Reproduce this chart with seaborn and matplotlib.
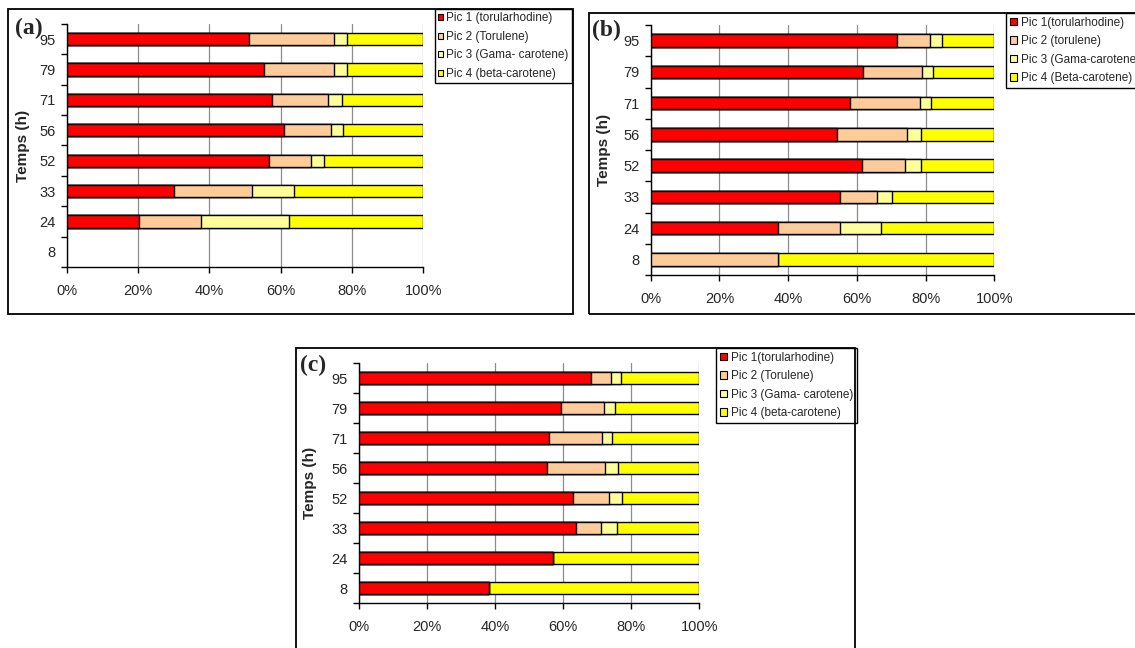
"""
Stacked percentage bars of carotenoid peaks vs. time, three panels (a), (b), (c).
"""

import numpy as np
import matplotlib
matplotlib.use('Agg')
import matplotlib.pyplot as plt
from matplotlib.patches import Patch, Rectangle
import seaborn as sns

# categories (top to bottom)
hours = ['95', '79', '71', '56', '52', '33', '24', '8']
x_ticks = [0, 20, 40, 60, 80, 100]

# panel (a), % of each peak
a_pic1 = [51.0, 55.4, 57.5, 61.0, 56.6, 30.0, 20.4, 0]
a_pic2 = [24.0, 19.6, 15.9, 13.1, 11.9, 22.1, 17.3, 0]
a_pic3 = [3.7, 3.7, 3.7, 3.3, 3.6, 11.7, 24.5, 0]
a_pic4 = [21.3, 21.3, 22.9, 22.6, 27.9, 36.2, 37.8, 0]
a_labels = ['Pic 1 (torularhodine)', 'Pic 2 (Torulene)',
            'Pic 3 (Gama- carotene)', 'Pic 4 (beta-carotene)']

# panel (b)
b_pic1 = [71.6, 61.9, 58.0, 54.3, 61.4, 55.2, 36.9, 0]
b_pic2 = [9.8, 17.1, 20.4, 20.2, 12.6, 10.6, 18.3, 36.9]
b_pic3 = [3.4, 3.3, 3.1, 4.2, 4.7, 4.5, 11.8, 0]
b_pic4 = [15.2, 17.7, 18.5, 21.3, 21.3, 29.7, 33.0, 63.1]
b_labels = ['Pic 1(torularhodine)', 'Pic 2 (torulene)',
            'Pic 3 (Gama-carotene)', 'Pic 4 (Beta-carotene)']

# panel (c)
c_pic1 = [68.1, 59.3, 56.0, 55.2, 62.8, 63.7, 57.2, 38.2]
c_pic2 = [5.9, 12.6, 15.5, 17.2, 10.8, 7.4, 0, 0]
c_pic3 = [2.9, 3.4, 2.9, 3.8, 3.8, 4.7, 0, 0]
c_pic4 = [23.1, 24.7, 25.6, 23.8, 22.6, 24.2, 42.8, 61.8]
c_labels = ['Pic 1(torularhodine)', 'Pic 2 (Torulene)',
            'Pic 3 (Gama- carotene)', 'Pic 4 (beta-carotene)']

colors = ['#FF0000', '#FFCC99', '#FFFF99', '#FFFF00']

W, H = 1135, 648

sns.set_style('white')
plt.rcParams['font.family'] = ['Liberation Sans', 'DejaVu Sans']


def px_rect(x0, y0, x1, y1):
    """Pixel box (origin top-left) -> figure fraction [left, bottom, w, h]."""
    return [x0 / W, 1 - y1 / H, (x1 - x0) / W, (y1 - y0) / H]


def draw_panel(fig, ax_box, series, labels, leg_xy, leg_kw,
               frame_box, tag, tag_xy, ylab_x):
    ax = fig.add_axes(px_rect(*ax_box))

    # stacked bars: draw cumulative totals, widest first
    cum = np.cumsum(np.array(series), axis=0)
    for i in range(len(series) - 1, -1, -1):
        sns.barplot(x=cum[i], y=hours, order=hours, orient='h', ax=ax,
                    color=colors[i], saturation=1, width=0.4,
                    edgecolor='black', linewidth=1, errorbar=None, zorder=3)
    # empty segments would leave a stray edge line
    for p in ax.patches:
        if p.get_width() == 0:
            p.set_visible(False)

    ax.set_xlim(0, 100)
    ax.set_ylim(7.5, -0.5)
    ax.set_xticks(x_ticks)
    ax.set_xticklabels([f'{v}%' for v in x_ticks])
    ax.set_yticks(range(len(hours)))
    ax.set_yticklabels(hours)
    ax.set_yticks(np.arange(-0.5, len(hours), 1), minor=True)
    ax.tick_params(axis='y', which='major', length=0, pad=8, labelsize=10.5)
    ax.tick_params(axis='y', which='minor', length=4, width=1, color='black', left=True)
    ax.tick_params(axis='x', length=4, width=1, color='black', pad=8,
                   labelsize=10.5, bottom=True)

    ax.xaxis.grid(True, color='#8c8c8c', linewidth=0.9)
    ax.yaxis.grid(False)
    ax.set_axisbelow(True)
    for s in ['top', 'right']:
        ax.spines[s].set_visible(False)
    for s in ['left', 'bottom']:
        ax.spines[s].set_color('black')
        ax.spines[s].set_linewidth(1)

    ax.set_xlabel('')
    ax.set_ylabel('Temps (h)', fontsize=11, fontweight='bold')
    ax.yaxis.set_label_coords(ylab_x, 0.5)

    handles = [Patch(facecolor=c, edgecolor='black', linewidth=0.8) for c in colors]
    leg = ax.legend(handles, labels, loc='upper left',
                    bbox_to_anchor=(leg_xy[0] / W, 1 - leg_xy[1] / H),
                    bbox_transform=fig.transFigure, borderaxespad=0,
                    fancybox=False, framealpha=1, edgecolor='black',
                    fontsize=8.5, labelspacing=0.55, **leg_kw)
    leg.get_frame().set_linewidth(1)

    x0, y0, x1, y1 = frame_box
    fig.add_artist(Rectangle((x0 / W, 1 - y1 / H), (x1 - x0) / W, (y1 - y0) / H,
                             transform=fig.transFigure, fill=False,
                             edgecolor='black', linewidth=1.3))
    fig.text(tag_xy[0] / W, 1 - tag_xy[1] / H, tag, family='Liberation Serif',
             fontweight='bold', fontsize=17, ha='left', va='top')
    return ax


fig = plt.figure(figsize=(W / 100, H / 100), dpi=100)

small_leg = dict(borderpad=0.28, handlelength=0.4, handleheight=0.4, handletextpad=0.25)
big_leg = dict(borderpad=0.3, handlelength=0.6, handleheight=0.6, handletextpad=0.35)

draw_panel(fig, (66.7, 24, 423.3, 267), [a_pic1, a_pic2, a_pic3, a_pic4],
           a_labels, (435, 9), small_leg, (8, 9, 573, 314), '(a)', (15, 18), -0.103)
draw_panel(fig, (650.8, 25, 994.2, 275), [b_pic1, b_pic2, b_pic3, b_pic4],
           b_labels, (1006, 13), big_leg, (589, 13, 1145, 314), '(b)', (592, 20), -0.116)
draw_panel(fig, (358.6, 363.3, 699.3, 603.3), [c_pic1, c_pic2, c_pic3, c_pic4],
           c_labels, (716, 348), big_leg, (296, 348, 855, 660), '(c)', (300, 355), -0.122)

plt.savefig('out.png', dpi=100)
plt.close()
